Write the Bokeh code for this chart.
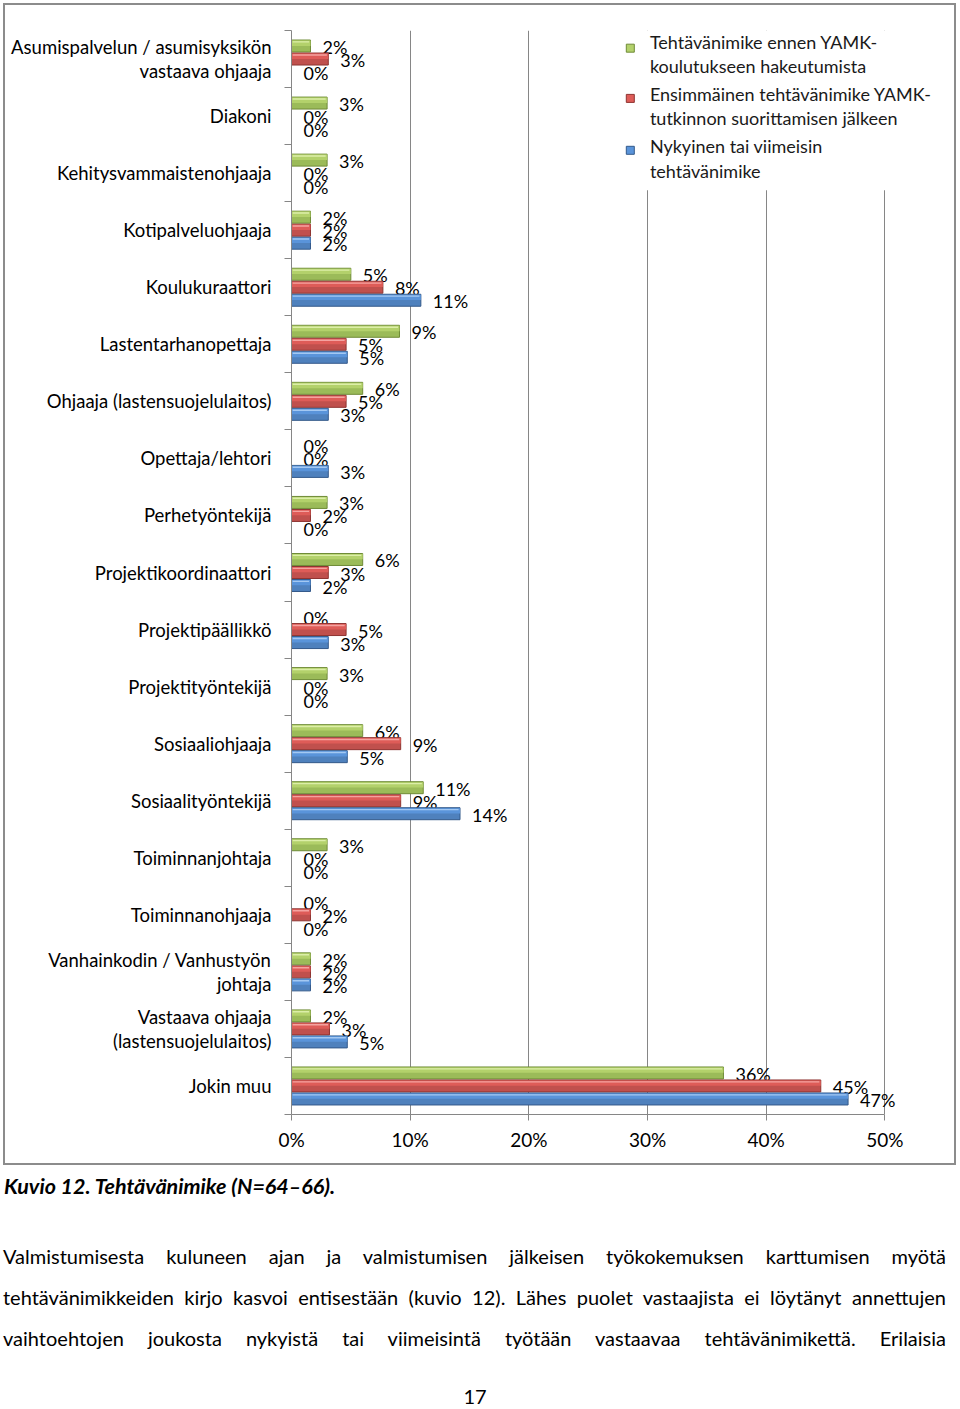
from bokeh.plotting import figure
from bokeh.models import ColumnDataSource, Range1d, FixedTicker, PrintfTickFormatter, Div
from bokeh.layouts import column
from bokeh.core.properties import value
from bokeh.embed import file_html
from bokeh.resources import INLINE

FONT = "Lato"

categories = [
    "Asumispalvelun / asumisyksikön\nvastaava ohjaaja",
    "Diakoni",
    "Kehitysvammaistenohjaaja",
    "Kotipalveluohjaaja",
    "Koulukuraattori",
    "Lastentarhanopettaja",
    "Ohjaaja (lastensuojelulaitos)",
    "Opettaja/lehtori",
    "Perhetyöntekijä",
    "Projektikoordinaattori",
    "Projektipäällikkö",
    "Projektityöntekijä",
    "Sosiaaliohjaaja",
    "Sosiaalityöntekijä",
    "Toiminnanjohtaja",
    "Toiminnanohjaaja",
    "Vanhainkodin / Vanhustyön\njohtaja",
    "Vastaava ohjaaja\n(lastensuojelulaitos)",
    "Jokin muu",
]

series_names = [
    "Tehtävänimike ennen YAMK-\nkoulutukseen hakeutumista",
    "Ensimmäinen tehtävänimike YAMK-\ntutkinnon suorittamisen jälkeen",
    "Nykyinen tai viimeisin\ntehtävänimike",
]

before = [1.6, 3.0, 3.0, 1.6, 5.0, 9.1, 6.0, 0.0, 3.0, 6.0, 0.0, 3.0, 6.0, 11.1, 3.0, 0.0, 1.6, 1.6, 36.4]
first_after = [3.1, 0.0, 0.0, 1.6, 7.7, 4.6, 4.6, 0.0, 1.6, 3.1, 4.6, 0.0, 9.2, 9.2, 0.0, 1.6, 1.6, 3.2, 44.6]
current = [0.0, 0.0, 0.0, 1.6, 10.9, 4.7, 3.1, 3.1, 0.0, 1.6, 3.1, 0.0, 4.7, 14.2, 0.0, 0.0, 1.6, 4.7, 46.9]

x_ticks = [0, 10, 20, 30, 40, 50]

series = [before, first_after, current]
main_colors = ["#9BBB59", "#C0504D", "#4F81BD"]
top_colors = ["#B3D16B", "#DE5C58", "#5A94DA"]
light_colors = ["#DCEEA8", "#F4A3A0", "#A3C8F2"]
dark_colors = ["#6F8B37", "#8E3431", "#33598A"]
offsets = [-0.228, 0.0, 0.228]
BAR_H = 0.21

n = len(categories)
idx = list(range(n))

p = figure(
    width=953, height=1162,
    output_backend="svg", toolbar_location=None,
    x_range=Range1d(0, 55.7), y_range=Range1d(n - 0.5, -0.5),
    min_border_left=286, min_border_right=6, min_border_top=25, min_border_bottom=53,
    background_fill_color="white", border_fill_color="white",
    outline_line_color=None,
    styles={"border": "2px solid #8c8c8c", "margin-left": "3px", "margin-top": "3px"},
)

# axes
p.xaxis.ticker = FixedTicker(ticks=x_ticks)
p.xaxis.formatter = PrintfTickFormatter(format="%d%%")
p.xaxis.bounds = (0, 50)
p.xaxis.axis_line_color = "#868686"
p.xaxis.major_tick_line_color = "#868686"
p.xaxis.major_tick_out = 6
p.xaxis.major_tick_in = 0
p.xaxis.minor_tick_line_color = None
p.xaxis.major_label_text_font = FONT
p.xaxis.major_label_text_font_size = "19px"
p.xaxis.major_label_text_color = "black"
p.xaxis.major_label_standoff = 7

p.yaxis.ticker = FixedTicker(ticks=idx, minor_ticks=[i + 0.5 for i in range(-1, n)])
p.yaxis.major_label_overrides = {i: c for i, c in enumerate(categories)}
p.yaxis.axis_line_color = "#868686"
p.yaxis.major_tick_out = 0
p.yaxis.major_tick_in = 0
p.yaxis.minor_tick_out = 7
p.yaxis.minor_tick_in = 0
p.yaxis.minor_tick_line_color = "#868686"
p.yaxis.major_label_text_font = FONT
p.yaxis.major_label_text_font_size = "18.5px"
p.yaxis.major_label_text_color = "black"
p.yaxis.major_label_standoff = 13
p.yaxis.major_label_text_line_height = 1.1

p.xgrid.grid_line_color = "#868686"
p.ygrid.grid_line_color = None

# bars (with a simple bevel: lighter upper half and a thin highlight line)
for vals, off, mc, tc, lc, dc in zip(series, offsets, main_colors, top_colors,
                                     light_colors, dark_colors):
    ys = [i + off for i in idx]
    nz = [(y, v) for y, v in zip(ys, vals) if v > 0]
    src = ColumnDataSource(dict(y=[a for a, _ in nz], v=[b for _, b in nz],
                                ty=[a - 0.05 for a, _ in nz],
                                hy=[a - 0.072 for a, _ in nz],
                                hl=[0.1 for _ in nz], hr=[b - 0.12 for _, b in nz]))
    p.hbar(y="y", left=0, right="v", height=BAR_H, source=src,
           fill_color=mc, line_color=dc, line_width=1)
    p.hbar(y="ty", left=0.03, right="v", height=0.095, source=src,
           fill_color=tc, line_color=None)
    p.hbar(y="hy", left="hl", right="hr", height=0.025, source=src,
           fill_color=lc, line_color=None)
    lab = ColumnDataSource(dict(x=vals, y=ys, t=[f"{v:.0f}%" for v in vals]))
    p.text(x="x", y="y", text="t", source=lab, x_offset=12, y_offset=1,
           text_align="left", text_baseline="middle",
           text_font=value(FONT), text_font_size="18px", text_color="black")

# legend (drawn manually to allow wrapped labels)
p.quad(left=26.3, right=55.7, top=-0.5, bottom=2.3, fill_color="white", line_color=None)
leg_marker_y = [-0.19, 0.69, 1.60]
leg_text_y = [-0.5, 0.42, 1.34]
p.scatter(x=[28.55] * 3, y=leg_marker_y, marker="square", size=8,
          fill_color=top_colors, line_color=dark_colors)
p.text(x=[30.2] * 3, y=leg_text_y, text=series_names,
       text_align="left", text_baseline="top", text_line_height=1.11,
       text_font=value(FONT), text_font_size="18px", text_color="#1a1a1a")

caption_html = """
<div style="font-family:'Lato'; color:black; width:945px;">
  <div style="font-size:21.5px; font-weight:bold; font-style:italic; margin-top:4px; margin-left:-1px; line-height:24px;">Kuvio 12. Tehtävänimike (N=64–66).</div>
  <div style="font-size:20px; line-height:41px; margin-top:38px; margin-left:-2px; width:943px;">
    <div style="text-align:justify; text-align-last:justify;">Valmistumisesta kuluneen ajan ja valmistumisen jälkeisen työkokemuksen karttumisen myötä</div>
    <div style="text-align:justify; text-align-last:justify;">tehtävänimikkeiden kirjo kasvoi entisestään (kuvio 12). Lähes puolet vastaajista ei löytänyt annettujen</div>
    <div style="text-align:justify; text-align-last:justify;">vaihtoehtojen joukosta nykyistä tai viimeisintä työtään vastaavaa tehtävänimikettä. Erilaisia</div>
  </div>
  <div style="font-size:20px; text-align:center; margin-top:25px; line-height:24px; width:940px;">17</div>
</div>
"""
d = Div(text=caption_html, width=945, height=240)

layout = column(p, d, spacing=0)
open("out.html", "w").write(file_html(layout, INLINE))
